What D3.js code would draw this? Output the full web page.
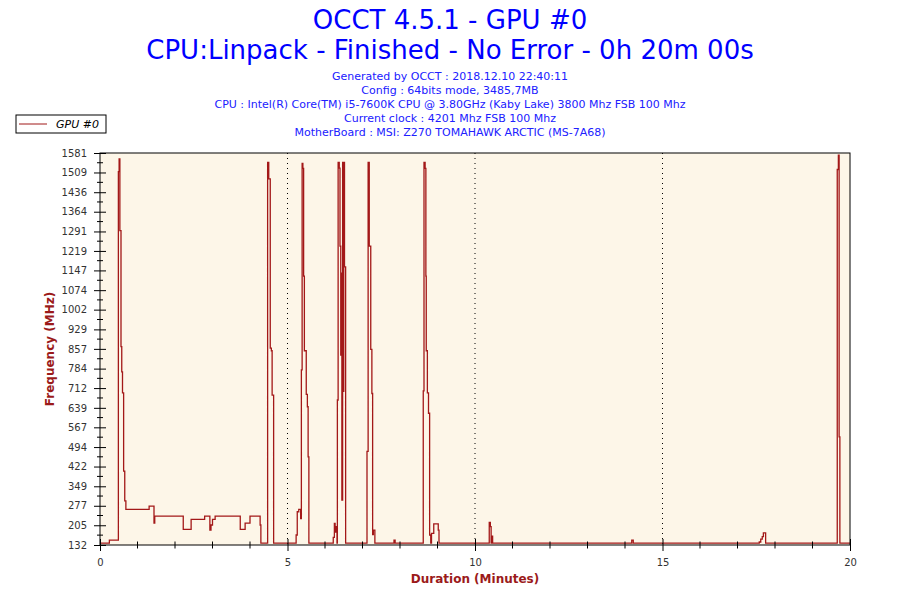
<!DOCTYPE html>
<html>
<head>
<meta charset="utf-8">
<script src="https://cdn.jsdelivr.net/npm/d3@7"></script>
<style>
  body { margin: 0; background: #fff; }
  svg { display: block; font-family: "DejaVu Sans", Verdana, sans-serif; }
</style>
</head>
<body>
<div id="chart"></div>
<script>
// Titles
const titleLines = ["OCCT 4.5.1 - GPU #0", "CPU:Linpack - Finished - No Error - 0h 20m 00s"];
const infoLines = [
  "Generated by OCCT : 2018.12.10 22:40:11",
  "Config : 64bits mode, 3485,7MB",
  "CPU : Intel(R) Core(TM) i5-7600K CPU @ 3.80GHz (Kaby Lake) 3800 Mhz FSB 100 Mhz",
  "Current clock : 4201 Mhz FSB 100 Mhz",
  "MotherBoard : MSI: Z270 TOMAHAWK ARCTIC (MS-7A68)"
];
const seriesName = "GPU #0";

// Axis ticks
const yTicks = [132, 205, 277, 349, 422, 494, 567, 639, 712, 784, 857, 929, 1002, 1074, 1147, 1219, 1291, 1364, 1436, 1509, 1581];
const xTicks = [0, 5, 10, 15, 20];

// GPU clock samples (minutes, MHz) - step series, each value held until next time
const times = [
  0.00, 0.25, 0.49, 0.51, 0.53, 0.56, 0.58, 0.60, 0.63, 0.66, 0.69,
  1.31, 1.44, 1.46, 2.22, 2.43, 2.79, 2.93, 2.96, 3.00, 3.07, 3.74, 3.87, 4.00, 4.27, 4.29,
  4.47, 4.50, 4.54, 4.57, 4.59, 4.63,
  5.23, 5.26, 5.30, 5.35, 5.37, 5.39, 5.41, 5.43, 5.45, 5.50, 5.53, 5.55, 5.57,
  6.22, 6.25, 6.27, 6.30, 6.32, 6.33, 6.35, 6.38, 6.40, 6.42, 6.43, 6.45, 6.47, 6.49, 6.50, 6.52, 6.55,
  7.12, 7.15, 7.18, 7.22, 7.25, 7.27, 7.29, 7.33,
  7.84, 7.87,
  8.62, 8.64, 8.67, 8.69, 8.70, 8.73, 8.76, 8.79, 8.82, 8.84, 8.90, 9.02, 9.04,
  10.38, 10.41, 10.43, 10.45, 10.47,
  14.18, 14.22,
  17.58, 17.62, 17.66, 17.69, 17.75,
  19.66, 19.69, 19.71, 19.73, 20.00
];
const mhz = [
  139, 150, 1512, 1559, 1294, 865, 772, 694, 405, 295, 264,
  276, 213, 239, 190, 227, 239, 187, 206, 227, 239, 190, 213, 239, 206, 139,
  1546, 1485, 860, 850, 686, 139,
  169, 255, 264, 230, 779, 1543, 1524, 1126, 850, 689, 643, 458, 139,
  160, 212, 180, 200, 139, 668, 1546, 1525, 1237, 834, 1137, 298, 1546, 700, 1546, 1160, 139,
  478, 1546, 1237, 855, 692, 170, 187, 139,
  150, 139,
  702, 1546, 1524, 1126, 850, 694, 619, 169, 139, 175, 210, 187, 139,
  216, 200, 139, 165, 139,
  150, 139,
  143, 154, 163, 177, 139,
  1520, 1573, 532, 139, 139
];

const width = 900, height = 600;
const margin = {top: 153, right: 50, bottom: 55, left: 100};
const innerWidth = width - margin.left - margin.right;
const innerHeight = height - margin.top - margin.bottom;

const data = times.map((t, i) => ({t: t, v: mhz[i]}));

const xScale = d3.scaleLinear().domain([0, 20]).range([0, innerWidth]);
const yScale = d3.scaleLinear().domain([132, 1581]).range([innerHeight, 0]);

const svg = d3.select("#chart")
  .append("svg")
    .attr("width", width)
    .attr("height", height);

// Titles
svg.selectAll(".title")
  .data(titleLines)
  .join("text")
    .attr("class", "title")
    .attr("x", width / 2)
    .attr("y", (d, i) => 29 + i * 30)
    .attr("text-anchor", "middle")
    .attr("fill", "#0000ff")
    .style("font-size", "26px")
    .text(d => d);

svg.selectAll(".info")
  .data(infoLines)
  .join("text")
    .attr("class", "info")
    .attr("x", width / 2)
    .attr("y", (d, i) => 80 + i * 14)
    .attr("text-anchor", "middle")
    .attr("fill", "#2020ff")
    .style("font-size", "11px")
    .text(d => d);

// Legend
const legend = svg.append("g").attr("transform", "translate(16, 115)");
legend.append("rect")
  .attr("width", 90).attr("height", 18)
  .attr("fill", "white").attr("stroke", "black");
legend.append("line")
  .attr("x1", 3).attr("x2", 31).attr("y1", 9).attr("y2", 9)
  .attr("stroke", "#a01818");
legend.append("text")
  .attr("x", 40).attr("y", 13)
  .style("font-size", "11px").style("font-style", "italic")
  .text(seriesName);

const chart = svg.append("g")
  .attr("transform", `translate(${margin.left}, ${margin.top})`);

// Plot background
chart.append("rect")
  .attr("width", innerWidth).attr("height", innerHeight)
  .attr("fill", "#fdf6e8");

// Dotted gridlines
chart.selectAll(".grid")
  .data(xTicks.slice(1, -1))
  .join("line")
    .attr("class", "grid")
    .attr("x1", d => xScale(d)).attr("x2", d => xScale(d))
    .attr("y1", 0).attr("y2", innerHeight)
    .attr("stroke", "black")
    .attr("stroke-dasharray", "1,4");

// Step line
const lineGenerator = d3.line()
  .x(d => xScale(d.t))
  .y(d => yScale(d.v))
  .curve(d3.curveStepAfter);
chart.append("path")
  .attr("d", lineGenerator(data))
  .attr("fill", "none")
  .attr("stroke", "#a31818")
  .attr("stroke-width", 1.3);

// Frame
chart.append("rect")
  .attr("width", innerWidth).attr("height", innerHeight)
  .attr("fill", "none").attr("stroke", "black");

// Y axis
const leftAxis = d3.axisLeft(yScale)
  .tickValues(yTicks)
  .tickSize(6)
  .tickPadding(7)
  .tickFormat(d3.format("d"));
const yAxis = chart.append("g").attr("class", "axis-y").call(leftAxis);
yAxis.select(".domain").remove();
yAxis.selectAll(".tick line").attr("x2", 6).attr("x1", -6);
yAxis.selectAll("text").style("font-size", "10px").attr("fill", "#333").attr("font-family", "DejaVu Sans, Verdana, sans-serif");
// minor y ticks
const yMinor = d3.pairs(yTicks).map(p => (p[0] + p[1]) / 2);
chart.selectAll(".ymin")
  .data(yMinor)
  .join("line")
    .attr("x1", -3).attr("x2", 3)
    .attr("y1", d => yScale(d)).attr("y2", d => yScale(d))
    .attr("stroke", "black");

// X axis
const bottomAxis = d3.axisBottom(xScale)
  .tickValues(xTicks)
  .tickSize(6)
  .tickPadding(8)
  .tickFormat(d3.format("d"));
const xAxis = chart.append("g")
  .attr("class", "axis-x")
  .attr("transform", `translate(0, ${innerHeight})`)
  .call(bottomAxis);
xAxis.select(".domain").remove();
xAxis.selectAll(".tick line").attr("y1", -6).attr("y2", 6);
xAxis.selectAll("text").style("font-size", "10px").attr("fill", "#333").attr("font-family", "DejaVu Sans, Verdana, sans-serif");
const xMinor = d3.range(1, 20).filter(d => d % 5 !== 0);
chart.selectAll(".xmin")
  .data(xMinor)
  .join("line")
    .attr("x1", d => xScale(d)).attr("x2", d => xScale(d))
    .attr("y1", innerHeight - 3.5).attr("y2", innerHeight + 3.5)
    .attr("stroke", "black");

// Axis titles
svg.append("text")
  .attr("transform", `translate(54, ${margin.top + innerHeight / 2}) rotate(-90)`)
  .attr("text-anchor", "middle")
  .attr("fill", "#9b1a1a")
  .style("font-size", "12px").style("font-weight", "bold")
  .text("Frequency (MHz)");
svg.append("text")
  .attr("x", margin.left + innerWidth / 2)
  .attr("y", 583)
  .attr("text-anchor", "middle")
  .attr("fill", "#9b1a1a")
  .style("font-size", "12px").style("font-weight", "bold")
  .text("Duration (Minutes)");
</script>
</body>
</html>
